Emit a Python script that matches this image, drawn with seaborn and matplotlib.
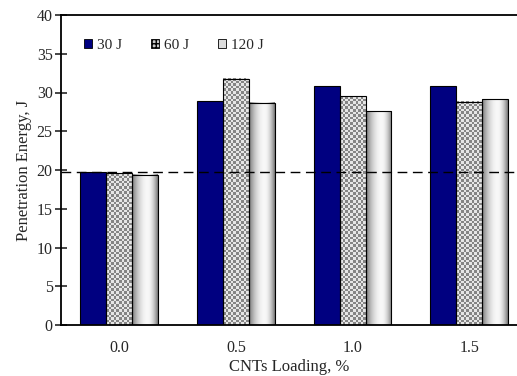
import numpy as np
import pandas as pd
import matplotlib
matplotlib.use("Agg")
import matplotlib.pyplot as plt
import matplotlib.patches as mpatches
import seaborn as sns

# ==========================================
# DATA
# ==========================================
loadings = ["0.0", "0.5", "1.0", "1.5"]
impacts = ["30 J", "60 J", "120 J"]
energy_30 = [19.7, 28.9, 30.9, 30.9]
energy_60 = [19.6, 31.8, 29.5, 28.8]
energy_120 = [19.4, 28.7, 27.6, 29.1]
baseline = 19.7

df = pd.DataFrame({
    "Loading": loadings * 3,
    "Impact": [impacts[0]] * 4 + [impacts[1]] * 4 + [impacts[2]] * 4,
    "Energy": energy_30 + energy_60 + energy_120,
})

# ==========================================
# PLOT
# ==========================================
sns.set_theme(style="white")
plt.rcParams["font.family"] = ["Liberation Serif", "DejaVu Serif"]
plt.rcParams["hatch.color"] = "#666666"

fig = plt.figure(figsize=(5.17, 3.76), dpi=100)
ax = fig.add_axes([61 / 517, 51 / 376, (517 - 61) / 517, 310 / 376])

sns.barplot(data=df, x="Loading", y="Energy", hue="Impact", order=loadings,
            hue_order=impacts, palette=["#000080", "#c8c8c8", "#e0e0e0"],
            saturation=1, edgecolor="black", linewidth=0.8, width=0.667,
            legend=False, errorbar=None, ax=ax)

px_per_unit = 310 / 40

# checkerboard fill for 60 J, cylinder shading for 120 J
for bar in ax.containers[1]:
    x, y = bar.get_x(), bar.get_y()
    w, h = bar.get_width(), bar.get_height()
    nrows = max(1, int(round(h * px_per_unit / 2.6)))
    ncols = 10
    board = (np.add.outer(np.arange(nrows), np.arange(ncols)) % 2) * 0.38 + 0.52
    ax.imshow(board, cmap="gray", vmin=0, vmax=1, extent=(x, x + w, y, y + h),
              aspect="auto", interpolation="nearest", zorder=0.9)
    bar.set_facecolor("none")
    bar.set_zorder(1.5)

for bar in ax.containers[2]:
    x, y = bar.get_x(), bar.get_y()
    w, h = bar.get_width(), bar.get_height()
    t = np.linspace(0, 1, 60)
    shade = 0.97 - 0.5 * ((t - 0.6) / np.where(t < 0.6, 0.6, 0.4)) ** 2
    ax.imshow(shade[None, :], cmap="gray", vmin=0, vmax=1,
              extent=(x, x + w, y, y + h), aspect="auto",
              interpolation="bilinear", zorder=0.9)
    bar.set_facecolor("none")
    bar.set_zorder(1.5)

ax.axhline(baseline, color="black", ls=(0, (7, 4)), lw=1.0, zorder=3)

ax.set_xlim(-0.5, 3.41)
ax.set_ylim(0, 40)
ax.set_yticks(np.arange(0, 41, 5))
ax.set_xticks([-0.5, 0.5, 1.5, 2.5], labels=[""] * 4)
ax.set_xticks(range(4), labels=loadings, minor=True)
ax.tick_params(axis="x", which="major", direction="inout", length=9, width=1.2)
ax.tick_params(axis="x", which="minor", length=0, pad=11, labelsize=11.5)
ax.tick_params(axis="y", direction="inout", length=8, width=1.2, labelsize=11.5,
               pad=2, left=True)

for side in ["left", "bottom", "top"]:
    ax.spines[side].set_linewidth(1.3)
    ax.spines[side].set_color("black")
ax.spines["right"].set_visible(False)

ax.set_xlabel("CNTs Loading, %", fontsize=12, labelpad=2)
ax.set_ylabel("Penetration Energy, J", fontsize=12, labelpad=3)

handles = [
    mpatches.Patch(facecolor="#000080", edgecolor="black", linewidth=0.6),
    mpatches.Patch(facecolor="#c8c8c8", edgecolor="black", linewidth=0.6, hatch="++++"),
    mpatches.Patch(facecolor="#dcdcdc", edgecolor="black", linewidth=0.6),
]
ax.legend(handles, impacts, loc="center left", bbox_to_anchor=(0.05, 0.903),
          ncol=3, frameon=False, fontsize=11, handlelength=0.55,
          handleheight=0.55, handletextpad=0.3, columnspacing=1.9,
          borderaxespad=0, borderpad=0)

fig.savefig("out.png", dpi=100)
